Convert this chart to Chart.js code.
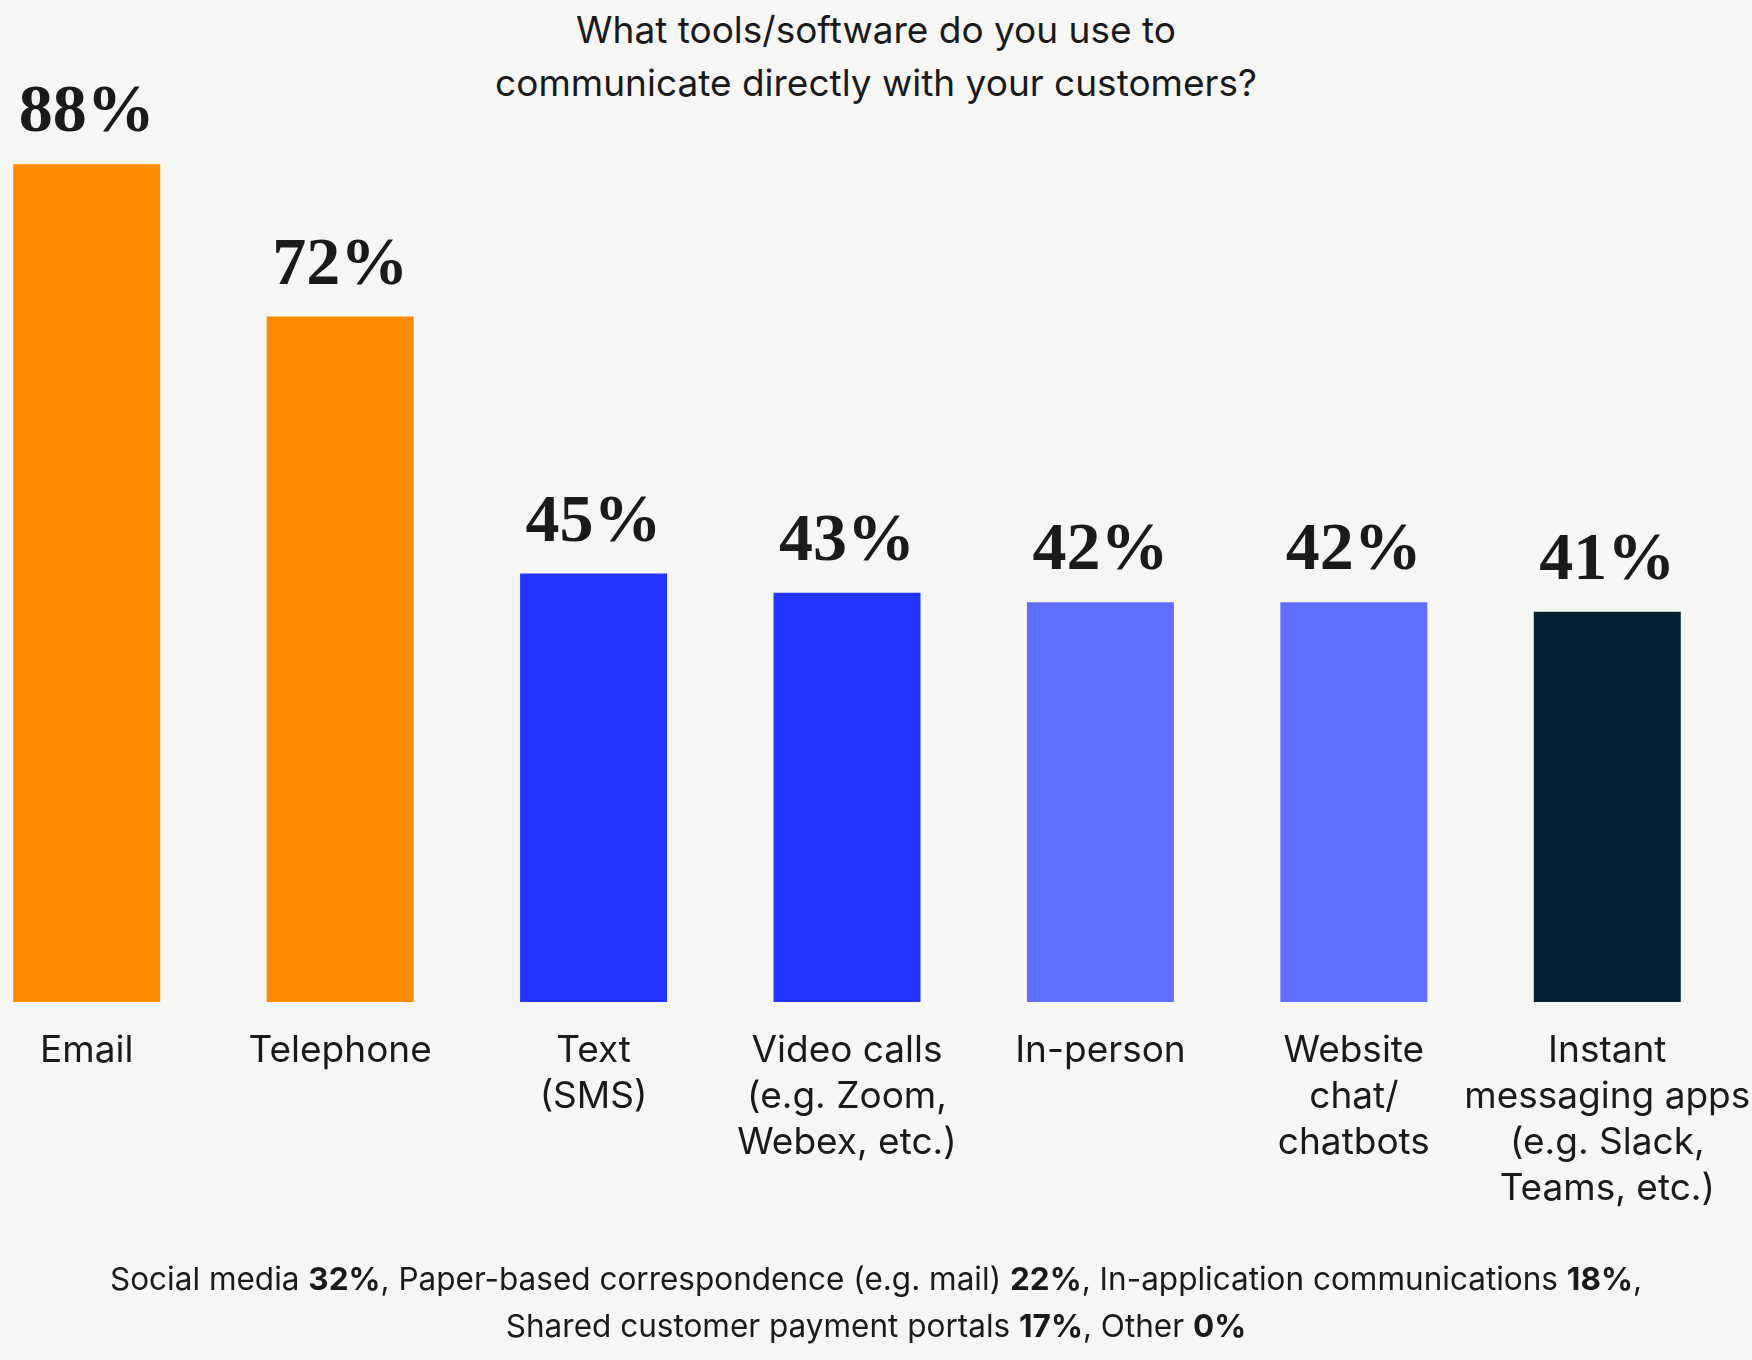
<!DOCTYPE html>
<html>
<head>
<meta charset="utf-8">
<script src="https://cdn.jsdelivr.net/npm/chart.js@4/dist/chart.umd.min.js"></script>
<style>
  html, body { margin: 0; padding: 0; background: #F6F6F4; width: 1752px; height: 1360px; overflow: hidden; position: relative; }
  #title { position: absolute; left: 0; top: 3px; width: 1752px; text-align: center; font-family: "Inter", sans-serif; font-size: 37px; line-height: 53px; color: #1a1a1a; }
  #foot { position: absolute; left: 0; top: 1255px; width: 1752px; text-align: center; font-family: "Inter", sans-serif; font-size: 31.5px; line-height: 47px; color: #1a1a1a; }
  #foot b { font-weight: 700; }
  #wrap { position: absolute; left: -40px; top: 0; width: 1800px; height: 1360px; }
</style>
</head>
<body>
<div id="title">What tools/software do you use to<br>communicate directly with your customers?</div>
<div id="wrap"><canvas id="c" width="1800" height="1360"></canvas></div>
<div id="foot"></div>
<script>
const categories = [
  "Email",
  "Telephone",
  ["Text", "(SMS)"],
  ["Video calls", "(e.g. Zoom,", "Webex, etc.)"],
  "In-person",
  ["Website", "chat/", "chatbots"],
  ["Instant", "messaging apps", "(e.g. Slack,", "Teams, etc.)"]
];
const values = [88, 72, 45, 43, 42, 42, 41];
const barColors = ["#FF8A00", "#FF8A00", "#2234FF", "#2234FF", "#5F6EFF", "#5F6EFF", "#03222F"];

const otherLabels = ["Social media", "Paper-based correspondence (e.g. mail)", "In-application communications", "Shared customer payment portals", "Other"];
const otherValues = [32, 22, 18, 17, 0];

// footnote text
(function () {
  const parts = otherLabels.map((l, i) => l + ' <b>' + otherValues[i] + '%</b>');
  document.getElementById('foot').innerHTML =
    parts.slice(0, 3).join(', ') + ',<br>' + parts.slice(3).join(', ');
})();

const valueLabels = {
  id: 'valueLabels',
  afterDatasetsDraw(chart) {
    const ctx = chart.ctx;
    const meta = chart.getDatasetMeta(0);
    ctx.save();
    ctx.font = 'bold 68px "Liberation Serif", serif';
    ctx.fillStyle = '#1a1a1a';
    ctx.textAlign = 'center';
    ctx.textBaseline = 'alphabetic';
    meta.data.forEach((bar, i) => {
      ctx.fillText(values[i] + '%', bar.x, bar.y - 33);
    });
    ctx.restore();
  }
};

new Chart(document.getElementById('c'), {
  type: 'bar',
  data: {
    labels: categories,
    datasets: [{
      data: values,
      backgroundColor: barColors,
      borderWidth: 0,
      categoryPercentage: 1,
      barPercentage: 0.58
    }]
  },
  options: {
    responsive: false,
    animation: false,
    events: [],
    layout: { padding: { top: 50, left: 0, right: 26, bottom: 0 } },
    plugins: { legend: { display: false }, tooltip: { enabled: false }, title: { display: false } },
    scales: {
      x: {
        offset: true,
        grid: { display: false, drawTicks: false },
        border: { display: false },
        ticks: {
          autoSkip: false,
          maxRotation: 0,
          minRotation: 0,
          padding: 26,
          color: '#1a1a1a',
          font: { family: 'Inter', size: 37, lineHeight: 1.24 }
        },
        afterFit(s) { s.height = 358; s.paddingLeft = 0; s.paddingRight = 0; }
      },
      y: {
        display: false,
        min: 0,
        max: 100
      }
    }
  },
  plugins: [valueLabels]
});
</script>
</body>
</html>
